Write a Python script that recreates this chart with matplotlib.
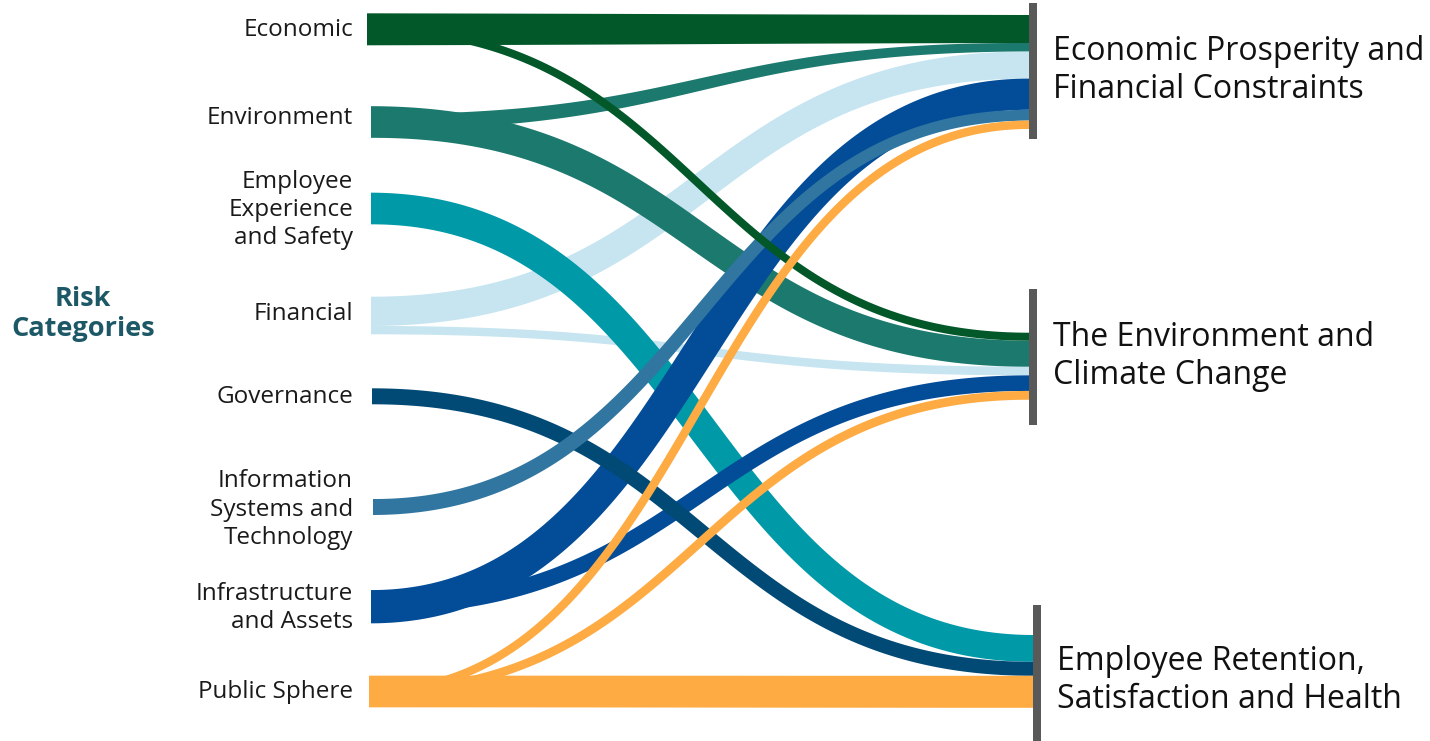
import numpy as np
import matplotlib
matplotlib.use("Agg")
import matplotlib.pyplot as plt

# risk categories (left) and impact areas (right)
sources = ["Economic", "Environment", "Employee\nExperience\nand Safety", "Financial",
           "Governance", "Information\nSystems and\nTechnology", "Infrastructure\nand Assets",
           "Public Sphere"]
targets = ["Economic Prosperity and\nFinancial Constraints",
           "The Environment and\nClimate Change",
           "Employee Retention,\nSatisfaction and Health"]

# flows: source index -> target index
flow_source = [0, 0, 1, 1, 2, 3, 3, 4, 5, 6, 6, 7, 7, 7]
flow_target = [0, 1, 0, 1, 2, 0, 1, 2, 0, 0, 1, 0, 1, 2]
# ribbon thickness at the target end and at the source end
flow_value = [3.5, 1.0, 1.05, 3.25, 3.35, 3.4, 1.08, 1.75, 1.35, 3.9, 1.95, 1.05, 1.1, 4.0]
flow_value_src = [4.0, 1.0, 2.0, 3.96, 3.96, 3.66, 1.04, 2.0, 2.0, 4.16, 2.0, 1.05, 1.09, 3.96]

colors = ["#03582a", "#1c796e", "#0099a8", "#c6e5f0", "#014a76", "#3176a0", "#034c98", "#fdab42"]

# layout (pixels)
W, H = 1430, 741
px_per_unit = 8
src_x = [367, 371, 371, 371, 372, 373, 371, 369]
src_center = [29.3, 122, 208.5, 315.5, 396.3, 507, 606.7, 691.5]
src_stacked = [False, False, False, True, False, False, False, False]
label_dy = [1, -3.5, 1.5, -1, 1, 2.5, 1.3, 1]
tgt_x = [1029, 1029, 1033]
tgt_top = [15, 332.7, 635]
tgt_order = [[0, 1, 3, 6, 5, 7], [0, 1, 3, 6, 7], [2, 4, 7]]
bar_top = [3, 289, 605]
bar_bot = [139, 425, 741]
tgt_label_y = [70, 357, 680]
draw_order = [3, 1, 2, 6, 4, 5, 0, 7]


def ribbon(ax, x0, y0, w0, x1, y1, w1, color):
    t = np.linspace(0, 1, 300)
    xm = (x0 + x1) / 2
    a, b, c, d = (1 - t) ** 3, 3 * (1 - t) ** 2 * t, 3 * (1 - t) * t ** 2, t ** 3
    bx = a * x0 + (b + c) * xm + d * x1
    by = (a + b) * y0 + (c + d) * y1
    dx = 3 * (1 - t) ** 2 * (xm - x0) + 3 * t ** 2 * (x1 - xm)
    dy = 6 * (1 - t) * t * (y1 - y0)
    n = np.hypot(dx, dy)
    nx, ny = -dy / n, dx / n
    hw = (w0 + (w1 - w0) * t) / 2
    px = np.concatenate([bx + nx * hw, (bx - nx * hw)[::-1]])
    py = np.concatenate([by + ny * hw, (by - ny * hw)[::-1]])
    ax.fill(px, py, color=color, lw=0)


fig = plt.figure(figsize=(W / 100, H / 100), dpi=100)
ax = fig.add_axes([0, 0, 1, 1])
ax.set_xlim(0, W)
ax.set_ylim(H, 0)
ax.axis("off")

n_flows = len(flow_value)

# target side: flows stacked in a fixed order
right_pos = {}
for t_i, order in enumerate(tgt_order):
    y = tgt_top[t_i]
    for s_i in order:
        k = [i for i in range(n_flows) if flow_source[i] == s_i and flow_target[i] == t_i][0]
        w = flow_value[k] * px_per_unit
        right_pos[k] = (y + w / 2, w)
        y += w

# source side: flows either all leave from the node centre or are stacked
left_pos = {}
for s_i in range(len(sources)):
    ks = [i for i in range(n_flows) if flow_source[i] == s_i]
    widths = [flow_value_src[k] * px_per_unit for k in ks]
    if src_stacked[s_i]:
        y = src_center[s_i] - sum(widths) / 2
        for k, w in zip(ks, widths):
            left_pos[k] = (y + w / 2, w)
            y += w
    else:
        for k, w in zip(ks, widths):
            left_pos[k] = (src_center[s_i], w)

for s_i in draw_order:
    for k in range(n_flows):
        if flow_source[k] != s_i:
            continue
        y0, w0 = left_pos[k]
        y1, w1 = right_pos[k]
        ribbon(ax, src_x[s_i], y0, w0, tgt_x[flow_target[k]], y1, w1, colors[s_i])

# target bars and labels
for t_i in range(len(targets)):
    ax.bar(tgt_x[t_i] + 4, bar_bot[t_i] - bar_top[t_i], bottom=bar_top[t_i], width=8,
           color="#595959", linewidth=0)
    ax.text(tgt_x[t_i] + 24, tgt_label_y[t_i], targets[t_i],
            ha="left", va="center", fontsize=23, family="Open Sans", color="#111111",
            linespacing=1.2)

# source labels
for s_i, name in enumerate(sources):
    ax.text(353, src_center[s_i] + label_dy[s_i], name, ha="right", va="center",
            multialignment="right", fontsize=17.5, family="Open Sans", color="#1a1a1a",
            linespacing=1.25)

ax.text(83, 314, "Risk\nCategories", ha="center", va="center", fontsize=19.5,
        family="Open Sans", fontweight="bold", color="#1d5866", linespacing=1.25)

fig.savefig("out.png", dpi=100)
